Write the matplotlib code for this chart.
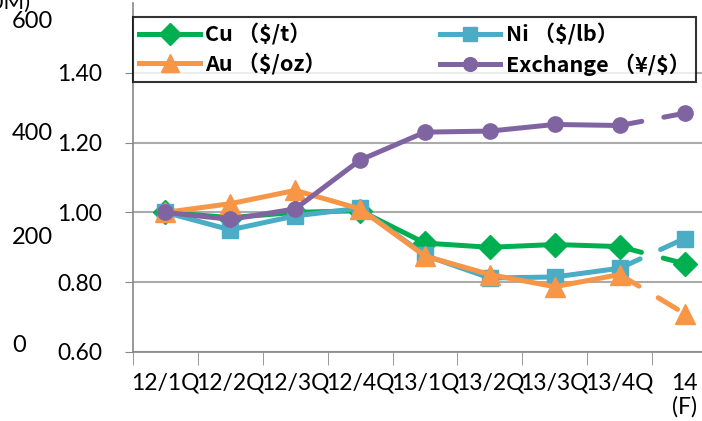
"""
Metal prices and exchange rate index, quarterly, with 14 forecast
"""

import matplotlib
matplotlib.use("Agg")
import matplotlib.pyplot as plt
from matplotlib.lines import Line2D

quarters = ["12/1Q", "12/2Q", "12/3Q", "12/4Q", "13/1Q", "13/2Q", "13/3Q", "13/4Q", "14\n(F)"]
cu = [1.00, 0.985, 1.00, 1.005, 0.912, 0.900, 0.908, 0.902, 0.853]
ni = [1.00, 0.950, 0.990, 1.012, 0.877, 0.812, 0.815, 0.840, 0.925]
au = [1.00, 1.025, 1.063, 1.010, 0.875, 0.822, 0.787, 0.822, 0.710]
fx = [1.00, 0.980, 1.010, 1.150, 1.230, 1.233, 1.252, 1.249, 1.284]
left_labels = ["0", "200", "400", "600"]
yticks = [0.60, 0.80, 1.00, 1.20, 1.40]

series = [
    ("Cu （$/t）", cu, "#00B050", "D", 12),
    ("Ni （$/lb）", ni, "#4BACC6", "s", 11.5),
    ("Au （$/oz）", au, "#F79646", "^", 14),
    ("Exchange （¥/$）", fx, "#8064A2", "o", 11),
]

W, H = 702, 421
fig = plt.figure(figsize=(W / 100, H / 100), dpi=100)
ax = fig.add_axes([133 / W, 1 - 352 / H, (717 - 133) / W, (352 - 3) / H])

x = list(range(len(quarters)))
handles = {}
for name, vals, col, mk, ms in series:
    # actual quarters solid, forecast segment dashed
    ax.plot(x[:-1], vals[:-1], color=col, lw=3.6, marker=mk, ms=ms,
            solid_joinstyle="round", zorder=3)
    ax.plot(x[-2:], vals[-2:], color=col, lw=3.6, ls=(0, (4.5, 4.5)),
            dash_capstyle="round", zorder=3)
    ax.plot(x[-1:], vals[-1:], color=col, marker=mk, ms=ms, ls="none", zorder=3)
    handles[name] = Line2D([], [], color=col, lw=3.6, marker=mk, ms=ms * 0.9)

ax.set_xlim(-0.5, len(quarters) - 0.5)
ax.set_ylim(0.60, 1.60)
ax.set_yticks(yticks)
ax.set_yticklabels([f"{v:.2f}" for v in yticks])
ax.set_xticks(x)
ax.set_xticklabels(quarters)
ax.set_xticks([i - 0.5 for i in range(len(quarters) + 1)], minor=True)
ax.tick_params(axis="x", which="major", length=0, pad=15)
ax.tick_params(axis="x", which="minor", length=9, color="#888888", direction="out")
ax.tick_params(axis="y", length=6, color="#888888", direction="out", pad=16)
for lab in ax.get_xticklabels() + ax.get_yticklabels():
    lab.set_fontfamily("Lato")
    lab.set_fontsize(16.5)
ax.get_xticklabels()[-1].set_linespacing(1.1)

ax.grid(axis="y", color="#ABABAB", lw=1.5)
ax.set_axisbelow(True)
for s in ["top", "right"]:
    ax.spines[s].set_visible(False)
ax.spines["left"].set_color("#888888")
ax.spines["bottom"].set_color("#888888")
ax.spines["left"].set_linewidth(1.2)
ax.spines["bottom"].set_linewidth(1.2)

order = ["Cu （$/t）", "Au （$/oz）", "Ni （$/lb）", "Exchange （¥/$）"]
leg = fig.legend([handles[k] for k in order], order, ncol=2,
                 loc="upper left", bbox_to_anchor=(133 / W, 1 - 17 / H),
                 frameon=True, fancybox=False, edgecolor="black",
                 handlelength=2.8, handletextpad=0.25, columnspacing=5.3,
                 borderpad=0.3, labelspacing=0.35, borderaxespad=0,
                 prop={"family": ["Noto Sans CJK JP", "DejaVu Sans"],
                       "weight": "bold", "size": 15.5})
leg.get_frame().set_linewidth(1.5)

# secondary (hidden) axis labels peeking at the far left
for lab, ypx in zip(left_labels, [345, 237, 133, 22]):
    fig.text(12 / W, 1 - ypx / H, lab, ha="left", va="center",
             fontfamily="Lato", fontsize=17)
fig.text(30 / W, 1 - 3 / H, "(¥100M)", ha="right", va="center",
         fontfamily=["Lato", "DejaVu Sans"], fontsize=16)

fig.savefig("out.png", dpi=100)
